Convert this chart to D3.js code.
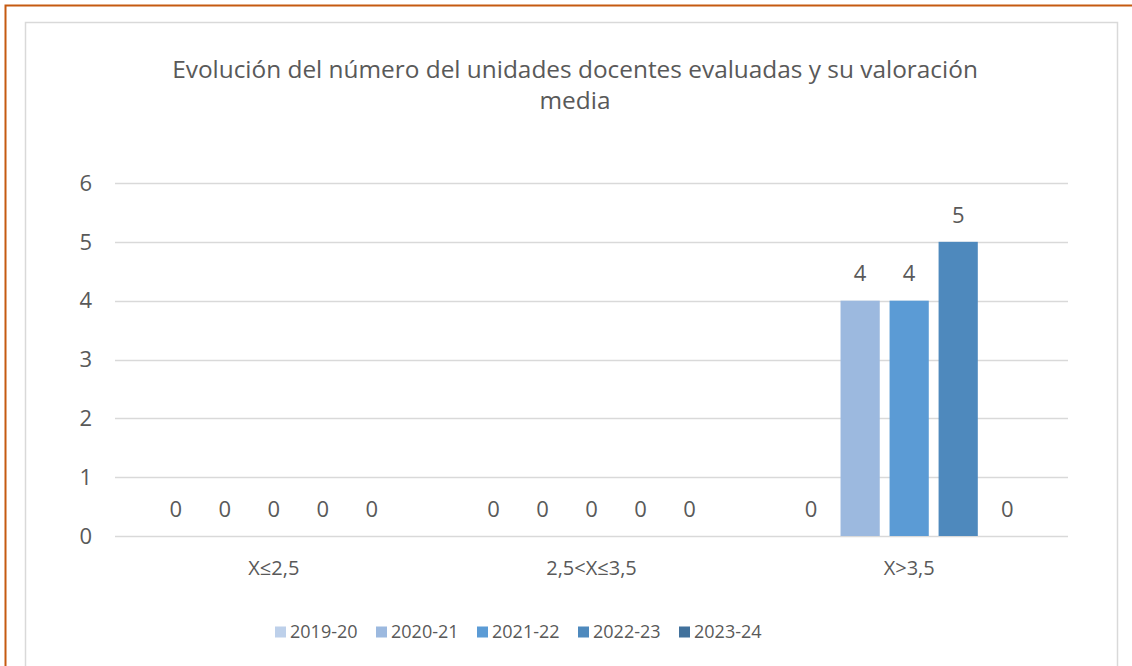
<!DOCTYPE html>
<html>
<head>
<meta charset="utf-8">
<script src="https://cdn.jsdelivr.net/npm/d3@7"></script>
<style>
  body { margin: 0; background: #fff; }
  svg { display: block; font-family: "Open Sans", "Noto Sans", sans-serif; }
</style>
</head>
<body>
<svg id="chart" width="1132" height="666"></svg>
<script>
// Chart data
const categories = ['X≤2,5', '2,5<X≤3,5', 'X>3,5'];
const seriesNames = ['2019-20', '2020-21', '2021-22', '2022-23', '2023-24'];
const seriesColors = ['#bdd0ea', '#9cb9df', '#5b9bd5', '#4e89bd', '#41719c'];
const values2019 = [0, 0, 0];
const values2020 = [0, 0, 4];
const values2021 = [0, 0, 4];
const values2022 = [0, 0, 5];
const values2023 = [0, 0, 0];
const yTicks = [0, 1, 2, 3, 4, 5, 6];
const titleLines = ['Evolución del número del unidades docentes evaluadas y su valoración', 'media'];

const seriesValues = [values2019, values2020, values2021, values2022, values2023];
const rows = [];
categories.forEach((c, ci) => {
  seriesNames.forEach((s, si) => rows.push({ cat: c, series: s, value: seriesValues[si][ci] }));
});

const svg = d3.select('#chart');
const textColor = '#595959';

// Outer orange frame and chart area border
svg.append('rect').attr('x', 5.5).attr('y', 5.5).attr('width', 1140).attr('height', 680)
  .attr('fill', 'none').attr('stroke', '#c55a11').attr('stroke-width', 2);
svg.append('rect').attr('x', 25.5).attr('y', 22.5).attr('width', 1092).attr('height', 660)
  .attr('fill', '#fff').attr('stroke', '#d9d9d9').attr('stroke-width', 1.5);

// Title
svg.append('text').attr('x', 575).attr('y', 78).attr('text-anchor', 'middle')
  .style('font-size', '24.4px').style('fill', textColor)
  .selectAll('tspan').data(titleLines).enter().append('tspan')
  .attr('x', 575).attr('dy', (d, i) => i === 0 ? 0 : 31).text(d => d);

const x0 = d3.scaleBand().domain(categories).range([115, 1068]);
const x1 = d3.scaleBand().domain(seriesNames).range([0, x0.bandwidth()])
  .paddingInner(0.2).paddingOuter(0.84);
const y = d3.scaleLinear().domain([0, 6]).range([536, 183]);

const g = svg.append('g');

// Gridlines
g.selectAll('.grid').data(yTicks).enter().append('line')
  .attr('x1', 115).attr('x2', 1068)
  .attr('y1', d => Math.round(y(d)) + 0.5).attr('y2', d => Math.round(y(d)) + 0.5)
  .attr('stroke', '#d9d9d9').attr('stroke-width', 1.5);

// Y tick labels
g.selectAll('.ytick').data(yTicks).enter().append('text')
  .attr('x', 92).attr('y', d => y(d)).attr('dy', '0.35em').attr('text-anchor', 'end')
  .style('font-size', '22px').style('fill', textColor).text(d => d);

// X category labels
g.selectAll('.xlabel').data(categories).enter().append('text')
  .attr('x', d => x0(d) + x0.bandwidth() / 2).attr('y', 568).attr('dy', '0.35em')
  .attr('text-anchor', 'middle').style('font-size', '20px').style('fill', textColor).text(d => d);

const color = d3.scaleOrdinal().domain(seriesNames).range(seriesColors);

// Bars
g.selectAll('.bar').data(rows).enter().append('rect')
  .attr('x', d => x0(d.cat) + x1(d.series))
  .attr('y', d => y(d.value))
  .attr('width', x1.bandwidth())
  .attr('height', d => y(0) - y(d.value))
  .attr('fill', d => color(d.series));

// Data labels
g.selectAll('.dlabel').data(rows).enter().append('text')
  .attr('x', d => x0(d.cat) + x1(d.series) + x1.bandwidth() / 2)
  .attr('y', d => y(d.value) - 27).attr('dy', '0.35em')
  .attr('text-anchor', 'middle').style('font-size', '22px').style('fill', textColor)
  .text(d => d.value);

// Legend
const legend = svg.append('g').selectAll('.leg').data(seriesNames).enter().append('g')
  .attr('transform', (d, i) => `translate(${275 + i * 101},632)`);
legend.append('rect').attr('x', 0).attr('y', -5.5).attr('width', 11).attr('height', 11)
  .attr('fill', d => color(d));
legend.append('text').attr('x', 15).attr('y', 0).attr('dy', '0.35em')
  .style('font-size', '18px').style('fill', textColor).text(d => d);
</script>
</body>
</html>
